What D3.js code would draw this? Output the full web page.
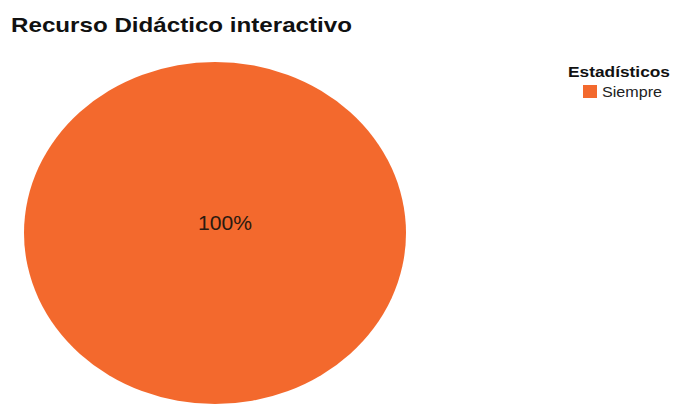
<!DOCTYPE html>
<html>
<head>
<meta charset="utf-8">
<script src="https://cdn.jsdelivr.net/npm/d3@7/dist/d3.min.js"></script>
<style>
  html, body { margin: 0; padding: 0; background: #ffffff; }
  svg { display: block; }
  text { font-family: "Liberation Sans", Arial, sans-serif; }
</style>
</head>
<body>
<svg id="chart" width="678" height="404"></svg>
<script>
// Chart data
const chartTitle = "Recurso Didáctico interactivo";
const legendTitle = "Estadísticos";
const categories = ["Siempre"];
const values = [100];
const colors = ["#f3692d"];

const svg = d3.select("#chart");

// Pie geometry (drawn as an ellipse by squashing a circular arc vertically)
const cx = 215, cy = 233, rx = 191, ry = 171;

const pie = d3.pie().sort(null).value(d => d)(values);
const arc = d3.arc().innerRadius(0).outerRadius(rx);
const color = d3.scaleOrdinal().domain(categories).range(colors);
const total = d3.sum(values);
const pct = d3.format(".0%");

const g = svg.append("g").attr("transform", `translate(${cx},${cy}) scale(1,${ry / rx})`);
g.selectAll("path")
  .data(pie)
  .join("path")
  .attr("d", arc)
  .attr("fill", (d, i) => color(categories[i]));

// Slice labels: a single full slice is labelled near the middle of the ellipse
const isFull = d => d.endAngle - d.startAngle >= 2 * Math.PI - 1e-9;
svg.append("g")
  .selectAll("text")
  .data(pie)
  .join("text")
  .attr("x", d => isFull(d) ? cx + 10 : cx + arc.centroid(d)[0])
  .attr("y", d => isFull(d) ? cy - 3 : cy + arc.centroid(d)[1] * ry / rx)
  .attr("text-anchor", "middle")
  .attr("font-size", 19.5)
  .attr("textLength", 54)
  .attr("lengthAdjust", "spacingAndGlyphs")
  .attr("fill", "#2a1a10")
  .text(d => pct(d.value / total));

// Title
svg.append("text")
  .attr("x", 11)
  .attr("y", 32)
  .attr("font-size", 21)
  .attr("font-weight", "bold")
  .attr("textLength", 341)
  .attr("lengthAdjust", "spacingAndGlyphs")
  .attr("fill", "#111")
  .text(chartTitle);

// Legend
const legend = svg.append("g");
legend.append("text")
  .attr("x", 568)
  .attr("y", 77)
  .attr("font-size", 15)
  .attr("font-weight", "bold")
  .attr("textLength", 102)
  .attr("lengthAdjust", "spacingAndGlyphs")
  .attr("fill", "#111")
  .text(legendTitle);

const items = legend.selectAll("g.item")
  .data(categories)
  .join("g")
  .attr("class", "item")
  .attr("transform", (d, i) => `translate(583,${85 + i * 16})`);
items.append("rect")
  .attr("width", 14)
  .attr("height", 13)
  .attr("fill", d => color(d));
items.append("text")
  .attr("x", 19)
  .attr("y", 12)
  .attr("font-size", 14)
  .attr("textLength", 60)
  .attr("lengthAdjust", "spacingAndGlyphs")
  .attr("fill", "#222")
  .text(d => d);
</script>
</body>
</html>
